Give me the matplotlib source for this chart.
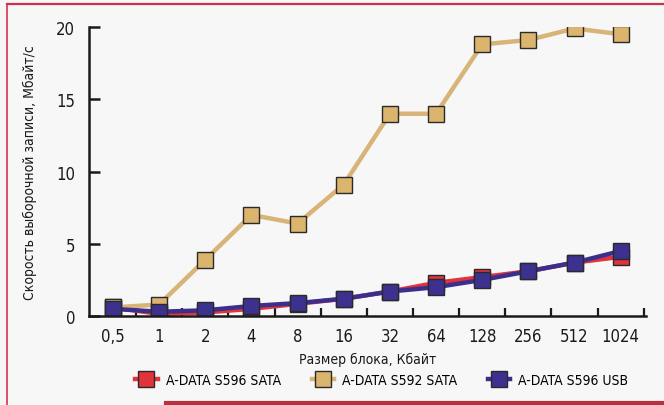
import matplotlib
matplotlib.use("Agg")
import matplotlib.pyplot as plt
from matplotlib.lines import Line2D
from matplotlib import font_manager

# use a narrow face if one is available
names = {f.name for f in font_manager.fontManager.ttflist}
narrow = [n for n in ["Liberation Sans Narrow", "DejaVu Sans Condensed"] if n in names]
plt.rcParams['font.family'] = narrow + ['DejaVu Sans']
plt.rcParams['font.stretch'] = 'condensed'

# Data
block_sizes = ["0,5", "1", "2", "4", "8", "16", "32", "64", "128", "256", "512", "1024"]
s596_sata = [0.6, 0.15, 0.25, 0.5, 0.85, 1.2, 1.7, 2.3, 2.7, 3.1, 3.7, 4.1]
s592_sata = [0.6, 0.8, 3.9, 7.0, 6.4, 9.1, 14.0, 14.0, 18.8, 19.1, 19.9, 19.5]
s596_usb = [0.5, 0.3, 0.4, 0.7, 0.9, 1.2, 1.7, 2.0, 2.5, 3.1, 3.7, 4.5]
labels = ["A-DATA S596 SATA", "A-DATA S592 SATA", "A-DATA S596 USB"]

RED = "#e2323a"
TAN = "#d8b478"
BLUE = "#3b2f8e"
TXT = "#1a1a1a"

fig = plt.figure(figsize=(6.64, 4.06), dpi=100)
fig.patch.set_facecolor("#f7f7f7")
ax = fig.add_axes([0.134, 0.219, 0.839, 0.712])
ax.set_facecolor("#f7f7f7")

x = list(range(len(block_sizes)))
series = [(s596_sata, RED, RED), (s592_sata, TAN, "#dbb46e"), (s596_usb, BLUE, "#3d3190")]
for vals, lc, mc in series:
    ax.plot(x, vals, color=lc, lw=3.2, marker="s", markersize=11,
            markerfacecolor=mc, markeredgecolor="#2a2a2a", markeredgewidth=1.0,
            solid_joinstyle="round")

ax.set_xlim(-0.52, 11.55)
ax.set_ylim(0, 20)

ax.spines["top"].set_visible(False)
ax.spines["right"].set_visible(False)
for s in ("left", "bottom"):
    ax.spines[s].set_linewidth(1.8)
    ax.spines[s].set_color(TXT)

ax.set_yticks([0, 5, 10, 15, 20])
ax.tick_params(axis="y", direction="in", length=8, width=1.8, colors=TXT,
               labelsize=12, pad=10)
ax.set_xticks(x)
ax.set_xticklabels(block_sizes)
ax.tick_params(axis="x", length=0, labelsize=12, colors=TXT, pad=8)
ax.set_xticks([i + 0.5 for i in range(len(block_sizes))], minor=True)
ax.tick_params(axis="x", which="minor", direction="in", length=6, width=1.6, colors=TXT)

ax.set_xlabel("Размер блока, Кбайт", fontsize=10, color=TXT, labelpad=5)
ax.set_ylabel("Скорость выборочной записи, Мбайт/с", fontsize=10, color=TXT, labelpad=14)

handles = [Line2D([], [], color=lc, lw=3.2, marker="s", markersize=11,
                  markerfacecolor=mc, markeredgecolor="#2a2a2a", markeredgewidth=1.0)
           for _, lc, mc in series]
fig.legend(handles, labels, loc="center", bbox_to_anchor=(0.575, 0.062), ncol=3,
           frameon=False, fontsize=10, handlelength=1.6, columnspacing=2.2,
           handletextpad=0.6)

# magazine frame lines
fig.add_artist(Line2D([0.011, 0.011], [0.0, 0.988], color="#d8344a", lw=1.2))
fig.add_artist(Line2D([0.011, 1.0], [0.988, 0.988], color="#c8324a", lw=1.6))
fig.add_artist(Line2D([0.25, 1.0], [0.005, 0.005], color="#b8303e", lw=3))

fig.savefig("out.png", dpi=100, facecolor=fig.get_facecolor())
